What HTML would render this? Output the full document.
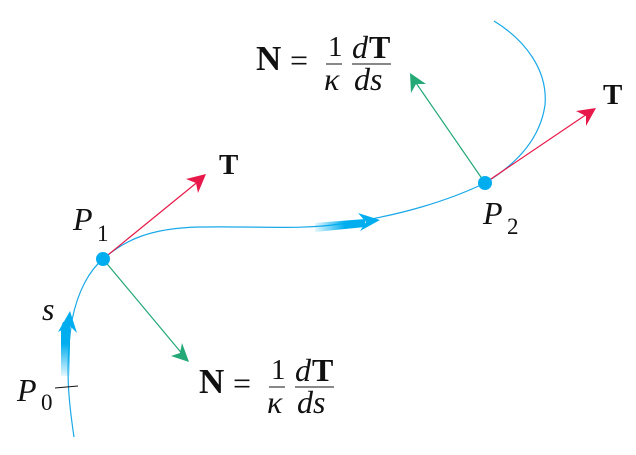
<!DOCTYPE html>
<html><head><meta charset="utf-8"><style>
html,body{margin:0;padding:0;background:#fff;}
#w{position:relative;width:636px;height:455px;overflow:hidden;}
svg{display:block;position:absolute;left:0;top:0;}
.t{position:absolute;font-family:"Liberation Serif","Times New Roman",serif;color:#111;line-height:1;white-space:nowrap;}
.b{font-weight:bold;}
.i{font-style:italic;}
</style></head><body><div id="w">
<svg width="636" height="455" viewBox="0 0 636 455" xmlns="http://www.w3.org/2000/svg">
<defs>
<linearGradient id="g1" x1="0" y1="1" x2="0" y2="0">
<stop offset="0" stop-color="#00aeef" stop-opacity="0.1"/><stop offset="0.6" stop-color="#00aeef"/></linearGradient>
<linearGradient id="g2" x1="0" y1="0" x2="1" y2="0">
<stop offset="0" stop-color="#00aeef" stop-opacity="0.1"/><stop offset="0.6" stop-color="#00aeef"/></linearGradient>
</defs>
<path d="M74,437 C70,410 64,370 72,320 C78,290 90,270 103,259 C125,240 150,228 200,227 C260,226 300,230 340,224 C400,216 450,200 485,183" fill="none" stroke="#1aa9e8" stroke-width="1.2"/>
<path d="M485,183 C515,165 540,140 545,105 C548,70 525,40 494,21" fill="none" stroke="#1aa9e8" stroke-width="1.2"/>
<path d="M61,376 L61,332 C61,327 62,324 63,322 L71,322 C70,325 70,328 70,332 L70,376 Z" fill="url(#g1)"/>
<path d="M58,332 L70,311 L77,333 L70,326 Z" fill="#00aeef"/>
<path d="M315,223 L365,219 L365,227 L315,232 Z" fill="url(#g2)"/>
<path d="M358,213 L380,220 L360,231 L366,222 Z" fill="#00aeef"/>
<line x1="55" y1="388" x2="78" y2="386" stroke="#111" stroke-width="1"/>
<line x1="103" y1="259" x2="200" y2="180" stroke="#e8194a" stroke-width="1.2"/>
<path d="M206,174 L186,179 L196,183 L198,193 Z" fill="#e8194a"/>
<line x1="103" y1="259" x2="184" y2="356" stroke="#23a876" stroke-width="1.2"/>
<path d="M189,362 L182,343 L180,353 L171,356 Z" fill="#23a876"/>
<line x1="485" y1="183" x2="590" y2="112" stroke="#e8194a" stroke-width="1.2"/>
<path d="M596,108 L576,111 L586,116 L586,126 Z" fill="#e8194a"/>
<line x1="485" y1="183" x2="414" y2="80" stroke="#23a876" stroke-width="1.2"/>
<path d="M410,73 L411,93 L416,84 L426,84 Z" fill="#23a876"/>
<circle cx="103" cy="259" r="7" fill="#00aeef"/>
<circle cx="485" cy="183" r="7" fill="#00aeef"/>
<line x1="269" y1="387" x2="285" y2="387" stroke="#111" stroke-width="1"/>
<line x1="295" y1="387" x2="334" y2="387" stroke="#111" stroke-width="1"/>
<line x1="326" y1="64" x2="342" y2="64" stroke="#111" stroke-width="1"/>
<line x1="352" y1="64" x2="391" y2="64" stroke="#111" stroke-width="1"/>
</svg>
<div class="t b" style="left:219px;top:151px;font-size:29px">T</div>
<div class="t b" style="left:603px;top:81px;font-size:29px">T</div>
<div class="t i" style="left:73px;top:203px;font-size:32px">P</div><div class="t" style="left:97px;top:222px;font-size:23px">1</div>
<div class="t i" style="left:483px;top:197px;font-size:32px">P</div><div class="t" style="left:507px;top:215px;font-size:23px">2</div>
<div class="t i" style="left:17px;top:374px;font-size:32px">P</div><div class="t" style="left:41px;top:391px;font-size:23px">0</div>
<div class="t i" style="left:42px;top:293px;font-size:32px">s</div>
<div class="t b" style="left:199px;top:364px;font-size:35px">N</div>
<div class="t" style="left:233px;top:367px;font-size:32px">=</div>
<div class="t" style="left:271px;top:356px;font-size:29px">1</div>
<div class="t i" style="left:267px;top:386px;font-size:32px">κ</div>
<div class="t i" style="left:295px;top:354px;font-size:32px">d</div><div class="t b" style="left:312px;top:354px;font-size:32px">T</div>
<div class="t i" style="left:297px;top:386px;font-size:32px">ds</div>
<div class="t b" style="left:256px;top:41px;font-size:35px">N</div>
<div class="t" style="left:290px;top:44px;font-size:32px">=</div>
<div class="t" style="left:328px;top:33px;font-size:29px">1</div>
<div class="t i" style="left:324px;top:63px;font-size:32px">κ</div>
<div class="t i" style="left:352px;top:31px;font-size:32px">d</div><div class="t b" style="left:369px;top:31px;font-size:32px">T</div>
<div class="t i" style="left:354px;top:63px;font-size:32px">ds</div>
</div></body></html>
